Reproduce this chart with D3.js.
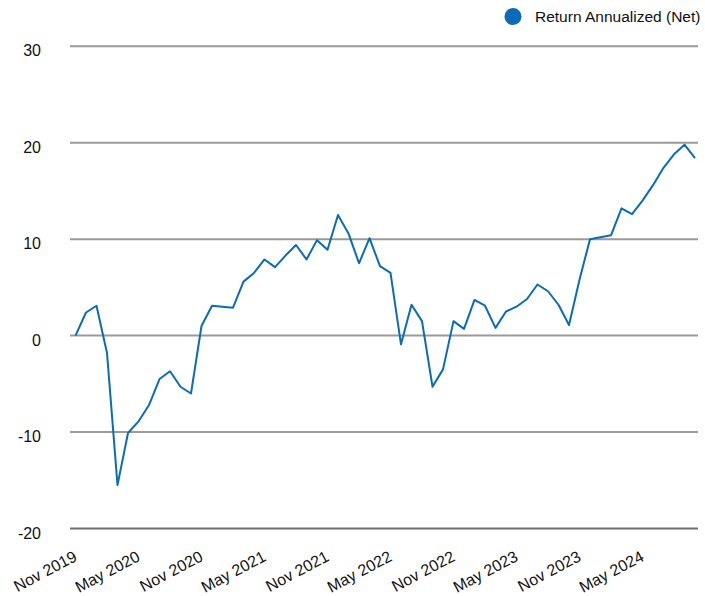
<!DOCTYPE html>
<html>
<head>
<meta charset="utf-8">
<script src="https://cdn.jsdelivr.net/npm/d3@7"></script>
<style>
  body { margin: 0; background: #fff; }
  svg { display: block; font-family: "Liberation Sans", Arial, sans-serif; }
</style>
</head>
<body>
<svg id="chart" width="705" height="596"></svg>
<script>
// monthly values, Nov 2019 .. Oct 2024
const startMonth = '2019-11';
const returns = [
  0, 2.4, 3.1, -1.8, -15.5, -10.1, -8.9, -7.2, -4.5, -3.7,
  -5.3, -6.0, 1.0, 3.1, 3.0, 2.9, 5.6, 6.5, 7.9, 7.1,
  8.3, 9.4, 7.9, 9.9, 8.9, 12.5, 10.6, 7.5, 10.1, 7.2,
  6.5, -0.9, 3.2, 1.5, -5.3, -3.5, 1.5, 0.7, 3.7, 3.1,
  0.8, 2.5, 3.0, 3.8, 5.3, 4.6, 3.2, 1.1, 5.8, 10.0,
  10.2, 10.4, 13.2, 12.6, 14.0, 15.6, 17.4, 18.8, 19.8, 18.4
];
const tickLabels = ['Nov 2019', 'May 2020', 'Nov 2020', 'May 2021', 'Nov 2021',
  'May 2022', 'Nov 2022', 'May 2023', 'Nov 2023', 'May 2024'];
const yTicks = [30, 20, 10, 0, -10, -20];
const seriesName = 'Return Annualized (Net)';
const lineColor = '#0a6cb8';

const svg = d3.select('#chart');
const parseMonth = d3.timeParse('%Y-%m');
const parseLabel = d3.timeParse('%b %Y');

const first = parseMonth(startMonth);
const months = returns.map((v, i) => d3.timeMonth.offset(first, i));
const data = returns.map((v, i) => ({date: months[i], value: v}));

// point scale keeps months evenly spaced
const x = d3.scalePoint()
  .domain(months.map(d => +d))
  .range([75.5, 695]);
const y = d3.scaleLinear().domain([-20, 30]).range([528.5, 46.3]);

// grid lines
const grid = svg.append('g');
grid.selectAll('line')
  .data(yTicks)
  .enter().append('line')
    .attr('x1', 70).attr('x2', 698)
    .attr('y1', d => y(d)).attr('y2', d => y(d))
    .attr('stroke', d => d === -20 ? '#6e6e6e' : '#9a9a9a')
    .attr('stroke-width', 2);

// y labels
svg.append('g').selectAll('text')
  .data(yTicks)
  .enter().append('text')
    .attr('x', 41)
    .attr('y', d => y(d) + 10)
    .attr('text-anchor', 'end')
    .attr('font-size', 16)
    .attr('fill', '#111')
    .text(d => d);

// x labels
svg.append('g').selectAll('text')
  .data(tickLabels)
  .enter().append('text')
    .attr('transform', d => `translate(${x(+parseLabel(d)) + 2.5},${560}) rotate(-28)`)
    .attr('text-anchor', 'end')
    .attr('font-size', 16)
    .attr('fill', '#111')
    .text(d => d);

// line
const line = d3.line()
  .x(d => x(+d.date))
  .y(d => y(d.value));

svg.append('path')
  .datum(data)
  .attr('fill', 'none')
  .attr('stroke', lineColor)
  .attr('stroke-width', 2)
  .attr('stroke-linejoin', 'round')
  .attr('d', line);

// legend
const legend = svg.append('g');
legend.append('circle')
  .attr('cx', 513).attr('cy', 16.5).attr('r', 8.5)
  .attr('fill', lineColor);
legend.append('text')
  .attr('x', 535).attr('y', 22)
  .attr('font-size', 15.5)
  .attr('fill', '#111')
  .text(seriesName);
</script>
</body>
</html>
